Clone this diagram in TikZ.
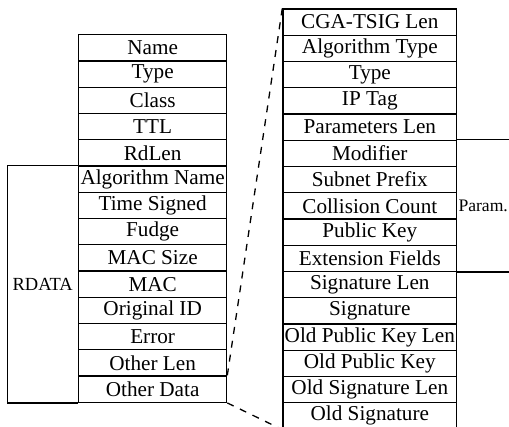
\documentclass[tikz,border=0pt]{standalone}
\usepackage{fontspec}
\setmainfont{Liberation Serif}
\usetikzlibrary{calc}
\begin{document}
\begin{tikzpicture}[x=1pt,y=-1pt,
  field/.style={draw, line width=1.3pt, rectangle, inner sep=0pt, anchor=north west,
    minimum height=26.25pt, font=\fontsize{21.2}{23}\selectfont},
  lfield/.style={field, minimum width=148pt},
  rfield/.style={field, minimum width=173.7pt},
  brace/.style={line width=1.3pt},
  zoomline/.style={line width=1.3pt, dash pattern=on 7pt off 7pt},
  tag/.style={inner sep=0pt, font=\fontsize{18.5}{20}\selectfont}]
\useasboundingbox (0,0) rectangle (509,426);
\clip (0,0) rectangle (509,426);

% left record: resource record with RDATA fields
\foreach \t [count=\i] in {Name,Type,Class,TTL,RdLen,Algorithm Name,Time Signed,Fudge,MAC Size,MAC,Original ID,Error,Other Len,Other Data}
  \node[lfield] (l\i) at (78,{34+(\i-1)*26.26}) {\t};

% right record: contents of Other Data
\foreach \t [count=\i] in {CGA-TSIG Len,Algorithm Type,Type,IP Tag,Parameters Len,Modifier,Subnet Prefix,Collision Count,Public Key,Extension Fields,Signature Len,Signature,Old Public Key Len,Old Public Key,Old Signature Len,Old Signature}
  \node[rfield] (r\i) at (282.3,{8.3+(\i-1)*26.25}) {\t};

% RDATA bracket
\coordinate (rdtop) at (7.3,0);
\draw[brace] (l6.north west) -- (l6.north west -| rdtop) -- (l14.south west -| rdtop) -- (l14.south west);
\node[tag] (rdata) at ($(l10.west -| rdtop)!0.5!(l10.west)$) {RDATA};

% Param. bracket
\coordinate (edge) at (509,0);
\draw[brace] (r6.north east) -- (r6.north east -| edge);
\draw[brace] (r10.south east) -- (r10.south east -| edge);
\node[tag, anchor=west, font=\fontsize{17.6}{19}\selectfont] (param) at ([xshift=1pt]r8.east) {Param.};

% expansion of Other Data
\draw[zoomline] (l14.north east) -- (r1.north west);
\draw[zoomline] (l14.south east) -- (r16.south west);
\end{tikzpicture}
\end{document}
